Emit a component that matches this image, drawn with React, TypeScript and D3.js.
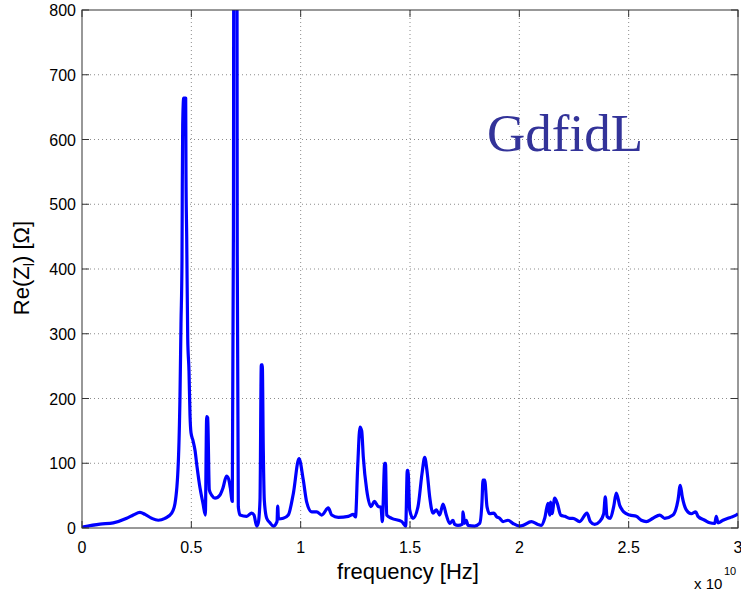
import React from "react";
import * as d3 from "d3";

// Longitudinal impedance spectrum, frequency in GHz
const freqGHz: number[] = [
  0, 0.823, 1.431, 2.044, 2.346, 2.652, 2.881, 3.187, 3.489, 3.796, 4.102, 4.253, 4.404,
  4.482, 4.527, 4.573, 4.587, 4.605, 4.651, 4.742, 4.756, 4.788, 4.834, 4.893, 4.939,
  4.985, 5.076, 5.168, 5.259, 5.396, 5.533, 5.639, 5.703, 5.748, 5.822, 5.945, 6.082,
  6.311, 6.448, 6.608, 6.7, 6.782, 6.873, 6.925, 6.96, 7.07, 7.1, 7.148, 7.225,
  7.532, 7.761, 7.866, 7.989, 8.062, 8.14, 8.2, 8.245, 8.291, 8.337, 8.447, 8.597,
  8.748, 8.918, 8.95, 8.986, 9.206, 9.434, 9.663, 9.924, 10.12, 10.276, 10.504, 10.733,
  10.962, 11.264, 11.419, 11.721, 12.178, 12.407, 12.507, 12.608, 12.713, 12.791,
  12.864, 13.019, 13.216, 13.367, 13.55, 13.674, 13.733, 13.843, 13.879, 13.934,
  14.163, 14.62, 14.803, 14.876, 14.908, 14.986, 15.137, 15.366, 15.549, 15.672,
  15.791, 15.901, 16.052, 16.203, 16.358, 16.509, 16.66, 16.815, 16.966, 17.044,
  17.195, 17.401, 17.424, 17.501, 17.575, 17.652, 17.959, 18.187, 18.292, 18.338,
  18.416, 18.521, 18.644, 18.841, 18.946, 19.102, 19.253, 19.481, 19.71, 20.016,
  20.167, 20.547, 20.853, 21.004, 21.16, 21.311, 21.388, 21.434, 21.494, 21.617,
  21.736, 21.892, 22.075, 22.303, 22.454, 22.76, 23.094, 23.245, 23.446, 23.675,
  23.858, 23.931, 24.009, 24.16, 24.315, 24.434, 24.59, 24.773, 25.047, 25.349,
  25.577, 25.806, 26.112, 26.419, 26.647, 27.027, 27.256, 27.361, 27.452, 27.635,
  27.864, 28.065, 28.17, 28.477, 28.705, 28.934, 29.007, 29.085, 29.313, 29.62,
  29.922, 30.0,
];

// Re(Z_l) in ohm
const reZ: number[] = [
  1.5, 6, 8, 15, 20, 24, 21, 15, 12, 15, 23, 38, 101,
  205, 315, 414, 528, 622, 664, 664, 545, 450, 294, 242, 174,
  147, 135, 120, 95, 62, 38, 20, 172, 170, 59, 50, 46,
  51, 62, 80, 76, 62, 41, 460, 1500, 1500, 420, 33, 20,
  18, 23, 20, 3, 8, 43, 252, 252, 120, 43, 15, 8,
  3, 10, 34, 14, 15, 20, 53, 107, 74, 40, 25, 25,
  20, 31, 20, 16.5, 18, 21, 17, 95, 156, 150,
  110, 59, 33, 41, 33, 32, 10, 100, 100, 20,
  15, 10, 3, 89, 89, 28, 15, 33, 84, 109,
  84, 48, 23, 28, 20, 37, 20, 7, 12, 5.5,
  4, 6, 25, 7, 12, 4, 3, 7, 40, 74,
  74, 33, 22, 23, 18, 15, 10, 12, 7, 3,
  4, 10, 5.5, 4, 15, 38, 20, 40, 22, 46,
  38, 20, 18, 15, 15, 10, 23, 10, 5.5, 10,
  22, 48, 18, 15, 33, 54, 35, 25, 20, 18,
  12, 10, 15, 20, 15, 20, 43, 66, 48, 28,
  22, 25, 18, 12, 8, 7, 18, 8, 12, 16,
  20, 22,
];

const xTicks: number[] = [0, 5, 10, 15, 20, 25, 30];
const xTickLabels: string[] = ["0", "0.5", "1", "1.5", "2", "2.5", "3"];
const yTicks: number[] = [0, 100, 200, 300, 400, 500, 600, 700, 800];

const W = 741;
const H = 591;
const M = { left: 82, right: 738, top: 10, bottom: 528 };
const TICK = 7;
const SANS = "'Liberation Sans', Arial, Helvetica, sans-serif";

export default function App() {
  const x = d3.scaleLinear().domain([0, 30]).range([M.left, M.right]);
  const y = d3.scaleLinear().domain([0, 800]).range([M.bottom, M.top]);
  const pts: [number, number][] = freqGHz.map((f, i) => [f, reZ[i]]);
  const line = d3
    .line<[number, number]>()
    .x((d) => x(d[0]))
    .y((d) => y(d[1]))
    .curve(d3.curveMonotoneX);

  const frame = "#333333";
  const grid = "#8c8c8c";

  return (
    <svg
      width={W}
      height={H}
      style={{ position: "absolute", left: 0, top: 0, background: "#fff" }}
    >
      <defs>
        <clipPath id="plotClip">
          <rect x={M.left} y={M.top} width={M.right - M.left} height={M.bottom - M.top} />
        </clipPath>
      </defs>
      <rect x={0} y={0} width={W} height={H} fill="#fff" />

      {/* dotted grid */}
      {xTicks.slice(1, -1).map((t) => (
        <line key={"gx" + t} x1={x(t)} x2={x(t)} y1={M.top} y2={M.bottom}
          stroke={grid} strokeWidth={1} strokeDasharray="1,3" />
      ))}
      {yTicks.slice(1, -1).map((t) => (
        <line key={"gy" + t} x1={M.left} x2={M.right} y1={y(t)} y2={y(t)}
          stroke={grid} strokeWidth={1} strokeDasharray="1,3" />
      ))}

      {/* data */}
      <path
        d={line(pts) || ""}
        fill="none"
        stroke="#0000ff"
        strokeWidth={3.2}
        strokeLinejoin="round"
        clipPath="url(#plotClip)"
      />

      {/* frame and inward ticks */}
      <rect x={M.left} y={M.top} width={M.right - M.left} height={M.bottom - M.top}
        fill="none" stroke={frame} strokeWidth={1} />
      {xTicks.map((t) => (
        <g key={"tx" + t}>
          <line x1={x(t)} x2={x(t)} y1={M.bottom} y2={M.bottom - TICK} stroke={frame} />
          <line x1={x(t)} x2={x(t)} y1={M.top} y2={M.top + TICK} stroke={frame} />
        </g>
      ))}
      {yTicks.map((t) => (
        <g key={"ty" + t}>
          <line x1={M.left} x2={M.left + TICK} y1={y(t)} y2={y(t)} stroke={frame} />
          <line x1={M.right} x2={M.right - TICK} y1={y(t)} y2={y(t)} stroke={frame} />
        </g>
      ))}

      {/* tick labels */}
      {xTicks.map((t, i) => (
        <text key={"lx" + t} x={x(t)} y={553} textAnchor="middle"
          fontFamily={SANS} fontSize={16} fill="#000">
          {xTickLabels[i]}
        </text>
      ))}
      {yTicks.map((t) => (
        <text key={"ly" + t} x={76} y={y(t) + 6} textAnchor="end"
          fontFamily={SANS} fontSize={16} fill="#000">
          {t}
        </text>
      ))}

      {/* exponent */}
      <text x={694} y={589} fontFamily={SANS} fontSize={15} fill="#000">x 10</text>
      <text x={724} y={575} fontFamily={SANS} fontSize={11} fill="#000">10</text>

      {/* axis titles */}
      <text x={408} y={579} textAnchor="middle" fontFamily={SANS} fontSize={22} fill="#000">
        frequency [Hz]
      </text>
      <text transform="translate(29,268) rotate(-90)" textAnchor="middle"
        fontFamily={SANS} fontSize={22} fill="#000">
        Re(Z<tspan fontSize={15} dy={5}>l</tspan><tspan dy={-5}>) [Ω]</tspan>
      </text>

      {/* code label */}
      <text x={565} y={151} textAnchor="middle"
        fontFamily="'Liberation Serif', 'Times New Roman', serif" fontSize={53} fill="#333399">
        GdfidL
      </text>
    </svg>
  );
}
